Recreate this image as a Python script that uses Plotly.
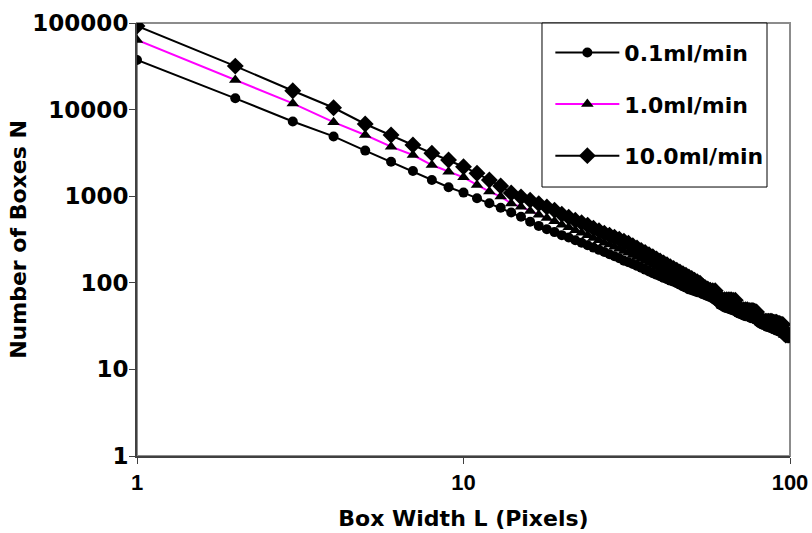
import plotly.graph_objects as go

box_width = [
    1, 2, 3, 4, 5, 6, 7, 8, 9, 10,
    11, 12, 13, 14, 15, 16, 17, 18, 19, 20,
    21, 22, 23, 24, 25, 26, 27, 28, 29, 30,
    31, 32, 33, 34, 35, 36, 37, 38, 39, 40,
    41, 42, 43, 44, 45, 46, 47, 48, 49, 50,
    51, 52, 53, 54, 55, 56, 57, 58, 59, 60,
    61, 62, 63, 64, 65, 66, 67, 68, 69, 70,
    71, 72, 73, 74, 75, 76, 77, 78, 79, 80,
    81, 82, 83, 84, 85, 86, 87, 88, 89, 90,
    91, 92, 93, 94, 95, 96, 97, 98, 99, 100,
]

n_01 = [
    37400, 13500, 7280, 4900, 3360, 2500, 1950, 1540, 1270, 1100,
    945, 828, 736, 649, 578, 506, 454, 416, 385, 355,
    333, 310, 290, 272, 255, 240, 227, 214, 203, 192,
    180, 173, 165, 157, 149, 142, 135, 129, 124, 119,
    114, 110, 106, 103, 99, 95, 91, 88, 84, 82,
    80, 78, 77, 74, 72, 70, 68, 66, 63, 60,
    56, 54, 52, 51, 50, 49, 48, 47, 45, 44,
    43, 42, 41, 41, 40, 39, 39, 38, 37, 35,
    34, 33, 33, 32, 31, 31, 30, 30, 29, 29,
    28, 28, 27, 27, 27, 25, 25, 24, 24, 24,
]

n_10 = [
    63700, 22000, 11800, 7160, 5090, 3730, 2990, 2290, 1920, 1650,
    1350, 1130, 990, 826, 753, 675, 610, 559, 515, 469,
    437, 405, 378, 354, 330, 310, 291, 276, 261, 247,
    233, 223, 210, 199, 188, 178, 169, 161, 153, 146,
    139, 133, 127, 123, 118, 112, 108, 104, 99, 96,
    93, 90, 87, 83, 80, 77, 75, 73, 71, 63,
    60, 59, 58, 57, 56, 56, 55, 54, 48, 47,
    46, 45, 44, 44, 44, 43, 43, 42, 41, 36,
    35, 34, 34, 34, 33, 33, 32, 32, 32, 31,
    31, 31, 30, 30, 30, 25, 25, 25, 25, 25,
]

n_100 = [
    92300, 31800, 16500, 10500, 6820, 5090, 3900, 3130, 2620, 2190,
    1840, 1540, 1310, 1090, 980, 900, 820, 750, 690, 620,
    573, 528, 494, 462, 427, 400, 374, 355, 336, 319,
    302, 287, 268, 252, 237, 224, 211, 200, 189, 179,
    170, 162, 153, 146, 140, 133, 127, 122, 117, 112,
    107, 103, 99, 92, 88, 85, 82, 81, 81, 66,
    65, 64, 64, 64, 64, 64, 63, 63, 52, 50,
    49, 49, 49, 49, 48, 48, 48, 47, 46, 38,
    37, 36, 36, 36, 36, 36, 36, 36, 35, 35,
    35, 34, 34, 33, 33, 26, 25, 25, 25, 25,
]

series_names = ["0.1ml/min", "1.0ml/min", "10.0ml/min"]
x_tick_vals = [1, 10, 100]
x_tick_text = ["1", "10", "100"]
y_tick_vals = [1, 10, 100, 1000, 10000, 100000]
y_tick_text = ["1", "10", "100", "1000", "10000", "100000"]

FONT = "DejaVu Sans, Arial, sans-serif"
FONT_X = "Liberation Sans, Arial, sans-serif"

fig = go.Figure()
styles = [
    (n_01, "black", "circle", 10),
    (n_10, "#FF00FF", "triangle-up", 11),
    (n_100, "black", "diamond", 13),
]
for name, (vals, lc, sym, ms) in zip(series_names, styles):
    fig.add_trace(go.Scatter(
        x=box_width, y=vals, name=name, mode="lines+markers",
        legendgroup=name,
        line=dict(color=lc, width=2),
        marker=dict(symbol=sym, size=ms, color="black"),
    ))

# plot-area border (gray)
fig.add_shape(type="rect", xref="paper", yref="paper", x0=0, x1=1, y0=0, y1=1,
              line=dict(color="#8c8c8c", width=2), layer="below")
# legend frame
fig.add_shape(type="rect", xref="paper", yref="paper",
              x0=0.6202, x1=0.9648, y0=0.6212, y1=1.0,
              line=dict(color="black", width=1), fillcolor="white", layer="above")

fig.update_layout(
    width=812, height=533,
    margin=dict(l=137, r=22, t=23, b=77, autoexpand=False),
    paper_bgcolor="white", plot_bgcolor="white",
    font=dict(family=FONT, color="black"),
    showlegend=True,
    legend=dict(
        x=0.633, y=0.980, xanchor="left", yanchor="top",
        bgcolor="rgba(0,0,0,0)", borderwidth=0,
        font=dict(family=FONT, size=22, weight="bold", color="black"),
        itemwidth=64, tracegroupgap=20,
    ),
    xaxis=dict(
        type="log", range=[0, 2], automargin=False,
        tickvals=x_tick_vals, ticktext=x_tick_text,
        ticks="outside", ticklen=6, tickwidth=1, tickcolor="#404040",
        showline=True, linecolor="#404040", linewidth=2,
        showgrid=False, zeroline=False, ticklabeloverflow="allow",
        tickfont=dict(family=FONT_X, size=22, weight="bold"),
        title=dict(text="Box Width L (Pixels)", standoff=16,
                   font=dict(family=FONT, size=22, weight="bold")),
    ),
    yaxis=dict(
        type="log", range=[0, 5], automargin=False,
        tickvals=y_tick_vals, ticktext=y_tick_text,
        ticks="outside", ticklen=6, tickwidth=1, tickcolor="#404040",
        showline=True, linecolor="#404040", linewidth=2,
        showgrid=False, zeroline=False, ticklabelstandoff=-4,
        tickfont=dict(family=FONT, size=23, weight="bold"),
        title=dict(text="Number of Boxes N", standoff=0,
                   font=dict(family=FONT, size=22, weight="bold")),
    ),
)

fig.write_html("out.html")
